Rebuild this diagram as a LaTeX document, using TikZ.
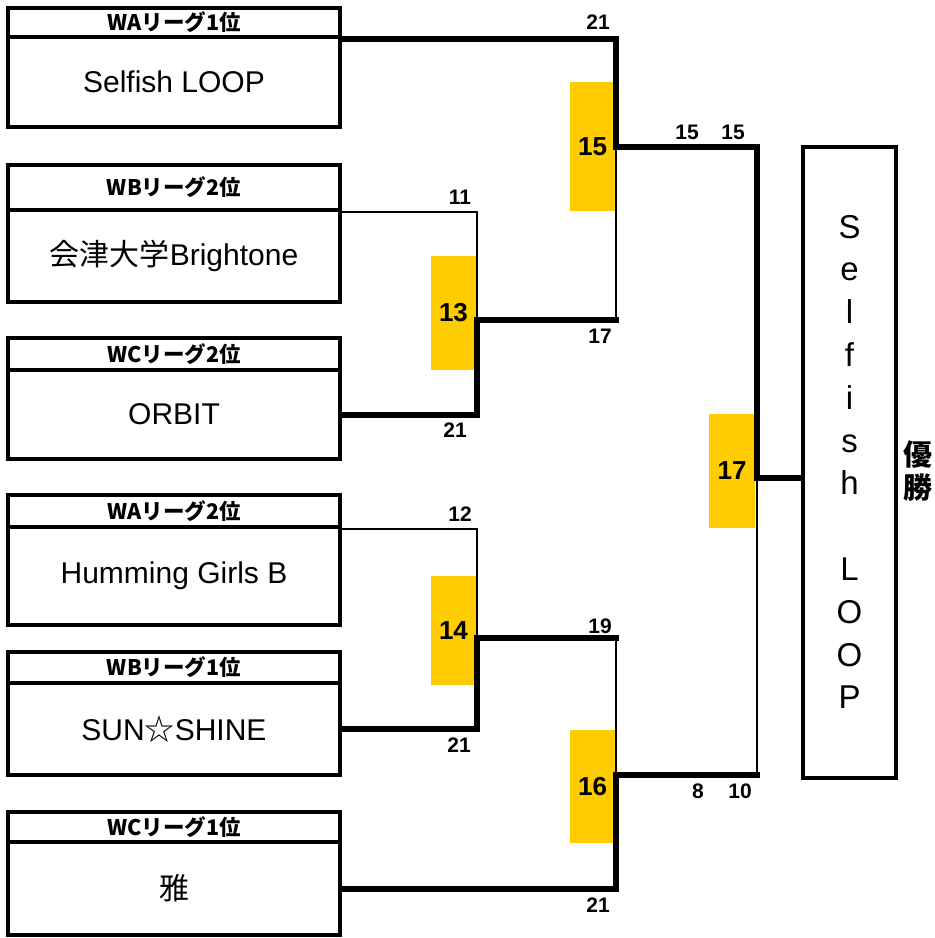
\documentclass[tikz,border=0pt]{standalone}
\usepackage{fontspec}
\setmainfont{Liberation Sans}
\newfontfamily\jp{Noto Sans CJK JP}
\definecolor{matchyellow}{HTML}{FFCC00}
\begin{document}
\begin{tikzpicture}[x=1pt,y=-1pt,
  hdr/.style={draw, line width=4pt, minimum width=332pt, inner sep=0pt, font=\jp\bfseries\fontsize{21.5}{21.5}\selectfont},
  body/.style={draw, line width=4pt, minimum width=332pt, inner sep=0pt, font=\fontsize{30}{30}\selectfont},
  ybox/.style={fill=matchyellow, inner sep=0pt, font=\bfseries\fontsize{26}{26}\selectfont},
  score/.style={inner sep=0pt, font=\bfseries\fontsize{21}{21}\selectfont},
  win/.style={line width=6pt, line cap=rect, line join=miter},
  lose/.style={line width=2.8pt, line cap=rect, line join=miter}]
\useasboundingbox (0,0) rectangle (935,938);
% yellow match boxes
\node[ybox, minimum width=45pt, minimum height=114pt] (y13) at (453.5,313) {13};
\node[ybox, minimum width=45pt, minimum height=129pt] (y15) at (592.5,146.5) {15};
\node[ybox, minimum width=45pt, minimum height=109pt] (y14) at (453.5,630.5) {14};
\node[ybox, minimum width=45pt, minimum height=113pt] (y16) at (592.5,786.5) {16};
\node[ybox, minimum width=46pt, minimum height=114pt] (y17) at (732,471) {17};
% team boxes
\node[hdr, minimum height=29pt] (h1) at (174,22.5) {WAリーグ1位};
\node[body, minimum height=90pt] (b1) at (174,82) {Selfish LOOP};
\node[hdr, minimum height=45pt] (h2) at (174,187.5) {WBリーグ2位};
\node[body, minimum height=92pt] (b2) at (174,256) {{\jp 会津大学}Brightone};
\node[hdr, minimum height=32pt] (h3) at (174,354) {WCリーグ2位};
\node[body, minimum height=89pt] (b3) at (174,414.5) {ORBIT};
\node[hdr, minimum height=32pt] (h4) at (174,511) {WAリーグ2位};
\node[body, minimum height=98pt] (b4) at (174,576) {Humming Girls B};
\node[hdr, minimum height=31pt] (h5) at (174,667.5) {WBリーグ1位};
\node[body, minimum height=92pt] (b5) at (174,729) {SUN{\jp ☆}SHINE};
\node[hdr, minimum height=30pt] (h6) at (174,827) {WCリーグ1位};
\node[body, minimum height=93pt] (b6) at (174,888.5) {{\jp 雅}};
% champion
\node[draw, line width=4pt, minimum width=93pt, minimum height=631pt, inner sep=0pt, align=center, font=\fontsize{33}{42.8}\selectfont] (champ) at (849.5,462) {S\\e\\l\\f\\i\\s\\h\\[42.8pt]L\\O\\O\\P};
\node[align=center, inner sep=0pt, font=\jp\bfseries\fontsize{29}{33}\selectfont] (yusho) at (918,471) {優\\勝};
% junctions
\coordinate (j13) at (477,320);
\coordinate (j15) at (616,147);
\coordinate (j14) at (477,638);
\coordinate (j16) at (616,775);
\coordinate (j17) at (757,478);
% bracket lines
\draw[lose] (h2.south east) -- (h2.south east -| j13) -- (j13);
\draw[win] (b3.east) -- (b3.east -| j13) -- (j13) -- (j13 -| j15);
\draw[lose] (j13 -| j15) -- (j15);
\draw[win] (h1.south east) -- (h1.south east -| j15) -- (j15) -- (j15 -| j17) -- (j17) -- (j17 -| champ.west);
\draw[lose] (h4.south east) -- (h4.south east -| j14) -- (j14);
\draw[win] (b5.east) -- (b5.east -| j14) -- (j14) -- (j14 -| j16);
\draw[lose] (j14 -| j16) -- (j16);
\draw[win] (b6.east) -- (b6.east -| j16) -- (j16) -- (j16 -| j17);
\draw[lose] (j16 -| j17) -- (j17);
% scores
\node[score] (s1) at (598,22) {21};
\node[score] (s2) at (460,197) {11};
\node[score] (s3) at (600,336) {17};
\node[score] (s4) at (455,430) {21};
\node[score] (s5) at (687,132) {15};
\node[score] (s6) at (733,132) {15};
\node[score] (s7) at (460,514) {12};
\node[score] (s8) at (600,626) {19};
\node[score] (s9) at (459,745) {21};
\node[score] (s10) at (698,791) {8};
\node[score] (s11) at (740,791) {10};
\node[score] (s12) at (598,905) {21};
\end{tikzpicture}
\end{document}
